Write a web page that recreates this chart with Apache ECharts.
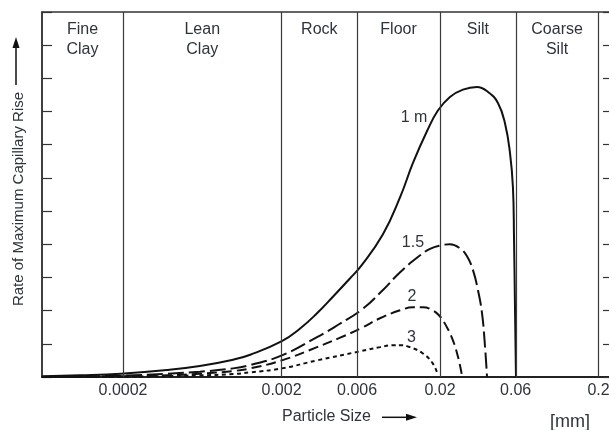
<!DOCTYPE html>
<html><head><meta charset="utf-8">
<script src="https://cdn.jsdelivr.net/npm/echarts@6/dist/echarts.min.js"></script>
<style>html,body{margin:0;padding:0;background:#fff}#c{width:609px;height:430px}</style>
</head><body><div id="c"></div>
<script>
// Particle size boundaries (mm) and their tick labels
const boundaries = [0.0002, 0.002, 0.006, 0.02, 0.06, 0.2];
const tickLabels = ['0.0002', '0.002', '0.006', '0.02', '0.06', '0.2'];
// Soil class names for the bands (left edge of axis to each boundary)
const regionNames = ['Fine\nClay', 'Lean\nClay', 'Rock', 'Floor', 'Silt', 'Coarse\nSilt'];
// Curve names
const seriesNames = ['1 m', '1.5', '2', '3'];
// Curves: [particle size mm, rate of maximum capillary rise]
const rise1m = [[6.16e-5,0.02],[1.07e-4,0.05],[1.94e-4,0.1],[3.79e-4,0.21],[6.1e-4,0.33],[9.9e-4,0.52],[1.27e-3,0.67],[2.01e-3,1.08],[2.62e-3,1.46],[3.35e-3,1.92],[4.22e-3,2.42],[5.4e-3,2.97],[6.34e-3,3.34],[8.73e-3,4.3],[1.12e-2,5.42],[1.35e-2,6.45],[1.66e-2,7.42],[1.94e-2,8.03],[2.31e-2,8.44],[2.79e-2,8.66],[3.42e-2,8.74],[4.02e-2,8.59],[4.64e-2,8.26],[5.14e-2,7.65],[5.53e-2,6.75],[5.77e-2,5.72],[5.86e-2,4.21],[5.94e-2,2.22],[6.03e-2,0]];
const rise15 = [[6.16e-5,0],[1.94e-4,0.04],[3.79e-4,0.1],[6.1e-4,0.16],[9.9e-4,0.26],[1.27e-3,0.36],[2.01e-3,0.65],[3.35e-3,1.2],[4.61e-3,1.59],[6.34e-3,2.01],[8.73e-3,2.62],[1.12e-2,3.16],[1.5e-2,3.67],[1.73e-2,3.86],[2.0e-2,3.96],[2.31e-2,4.0],[2.67e-2,3.88],[2.96e-2,3.64],[3.23e-2,3.22],[3.47e-2,2.62],[3.68e-2,1.93],[3.84e-2,0.96],[3.96e-2,0]];
const rise2 = [[6.16e-5,0],[1.94e-4,0.02],[3.79e-4,0.05],[6.1e-4,0.1],[9.9e-4,0.18],[1.27e-3,0.26],[2.01e-3,0.5],[3.35e-3,0.9],[4.61e-3,1.17],[6.34e-3,1.47],[8.36e-3,1.77],[1.12e-2,2.01],[1.35e-2,2.1],[1.56e-2,2.1],[1.73e-2,2.05],[1.97e-2,1.86],[2.21e-2,1.5],[2.41e-2,1.11],[2.6e-2,0.6],[2.75e-2,0.05]];
const rise3 = [[6.16e-5,0],[1.94e-4,0.01],[6.1e-4,0.05],[9.9e-4,0.09],[1.27e-3,0.14],[2.01e-3,0.26],[3.35e-3,0.5],[6.34e-3,0.78],[8.36e-3,0.9],[1.01e-2,0.96],[1.12e-2,0.96],[1.29e-2,0.9],[1.56e-2,0.71],[1.8e-2,0.41],[1.94e-2,0.05]];
// Where each curve's name is written: [mm, rise]
const curveLabelAt = [[0.0137, 7.83], [0.0135, 4.06], [0.0133, 2.43], [0.0132, 1.20]];
// Axis extents
const xMinMM = 6.163e-5, xMaxMM = 0.2469;
const yMax = 11;

const lg = v => Math.log10(v);
const xMin = lg(xMinMM), xMax = lg(xMaxMM);
const FONT = "'Liberation Sans', Arial, sans-serif";
const TXT = '#2f343c';

const curves = [rise1m, rise15, rise2, rise3];
const dashes = ['solid', [16, 5], [10, 5], [4, 3.5]];

const chart = echarts.init(document.getElementById('c'), null, {renderer: 'canvas'});

const bandStarts = [xMinMM].concat(boundaries.slice(0, -1));
const areaData = regionNames.map((n, i) => [
  {xAxis: lg(bandStarts[i]), name: n},
  {xAxis: lg(boundaries[i])}
]);

const series = [{
  type: 'line', name: 'bands', data: [], silent: true, z: 1,
  markArea: {
    silent: true,
    itemStyle: {color: 'rgba(0,0,0,0)'},
    label: {show: true, position: 'insideTop', distance: 8, fontSize: 16, lineHeight: 20,
      color: TXT, fontFamily: FONT, align: 'center'},
    data: areaData
  },
  markLine: {
    silent: true, symbol: ['none', 'none'],
    label: {show: false},
    lineStyle: {type: 'solid', color: '#3a3a3a', width: 1.2},
    data: boundaries.map(b => ({xAxis: lg(b)}))
  }
}];

curves.forEach((c, i) => {
  series.push({
    type: 'line', name: seriesNames[i], z: 3,
    data: c.map(p => [lg(p[0]), p[1]]),
    showSymbol: false, symbol: 'none', smooth: 0.45,
    lineStyle: {color: '#111', width: 2, type: dashes[i]},
    markPoint: {
      symbol: 'circle', symbolSize: 0,
      label: {show: true, position: 'inside', formatter: seriesNames[i], fontSize: 16,
        color: TXT, fontFamily: FONT},
      data: [{coord: [lg(curveLabelAt[i][0]), curveLabelAt[i][1]]}]
    }
  });
});

function tickText(v) {
  let best = 0, bd = Infinity;
  boundaries.forEach((b, i) => { const d = Math.abs(lg(b) - v); if (d < bd) { bd = d; best = i; } });
  return tickLabels[best];
}

const yAxisCommon = {
  type: 'value', min: 0, max: yMax, interval: 1,
  axisLabel: {show: false}, splitLine: {show: false},
  axisLine: {show: true, lineStyle: {color: '#333', width: 1.5}},
  axisTick: {show: true, inside: true, length: 10, lineStyle: {color: '#333', width: 1.2}}
};

chart.setOption({
  animation: false,
  backgroundColor: '#fff',
  grid: {left: 42, top: 12, right: -4, bottom: 53, outerBoundsMode: 'none', containLabel: false,
    show: true, borderColor: '#333', borderWidth: 1.5, backgroundColor: 'rgba(0,0,0,0)'},
  xAxis: {
    type: 'value', min: xMin, max: xMax,
    splitLine: {show: false},
    axisLine: {show: true, onZero: false, lineStyle: {color: '#222', width: 2}},
    axisTick: {show: false},
    axisLabel: {show: true, customValues: boundaries.map(lg), formatter: tickText,
      fontSize: 16, color: TXT, fontFamily: FONT, margin: 6, hideOverlap: false}
  },
  yAxis: [Object.assign({position: 'left'}, yAxisCommon), Object.assign({position: 'right'}, yAxisCommon)],
  series: series,
  graphic: [
    {type: 'text', x: 19, y: 199, rotation: Math.PI / 2,
      style: {text: 'Rate of Maximum Capillary Rise', font: '15px ' + FONT, fill: TXT, align: 'center', verticalAlign: 'middle'}},
    {type: 'line', shape: {x1: 16, y1: 85, x2: 16, y2: 46}, style: {stroke: '#111', lineWidth: 1.5}},
    {type: 'polygon', shape: {points: [[16, 37], [12.5, 48], [19.5, 48]]}, style: {fill: '#111'}},
    {type: 'text', x: 282, y: 417,
      style: {text: 'Particle Size', font: '16px ' + FONT, fill: TXT, align: 'left', verticalAlign: 'middle'}},
    {type: 'line', shape: {x1: 382, y1: 417.3, x2: 407, y2: 417.3}, style: {stroke: '#111', lineWidth: 1.5}},
    {type: 'polygon', shape: {points: [[417, 417.3], [406, 413.8], [406, 420.8]]}, style: {fill: '#111'}},
    {type: 'text', x: 570, y: 422,
      style: {text: '[mm]', font: '18px ' + FONT, fill: TXT, align: 'center', verticalAlign: 'middle'}}
  ]
});
</script>
</body></html>
